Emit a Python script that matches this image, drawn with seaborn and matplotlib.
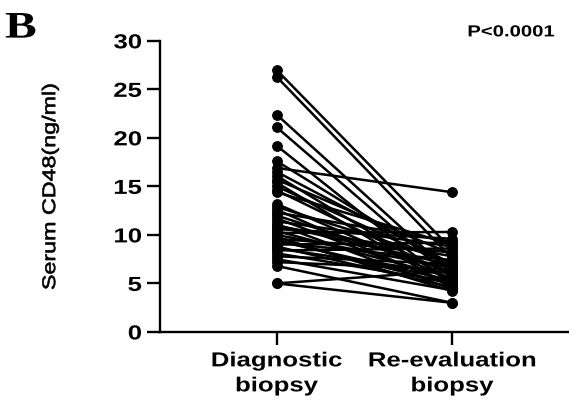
import matplotlib
matplotlib.use("Agg")
import matplotlib.pyplot as plt
from matplotlib.patheffects import AbstractPathEffect
from matplotlib.transforms import Affine2D
import seaborn as sns
import pandas as pd

categories = ["Diagnostic\nbiopsy", "Re-evaluation\nbiopsy"]
diagnostic = [27.0, 26.3, 22.4, 21.1, 19.2, 17.6, 16.9, 16.5, 16.1, 15.7, 15.4, 15.0,
              14.6, 14.4, 13.2, 12.9, 12.6, 12.3, 12.0, 11.7, 11.4, 11.1, 11.0, 10.9,
              10.6, 10.4, 10.2, 10.0, 9.8, 9.6, 9.5, 9.4, 9.2, 9.0, 8.8, 8.6, 8.4, 8.1,
              7.8, 7.5, 7.2, 6.8, 5.0, 5.0]
reevaluation = [8.5, 7.6, 6.0, 5.5, 4.8, 6.5, 14.4, 7.0, 5.2, 8.0, 4.5, 6.8,
                5.8, 9.0, 5.4, 7.2, 4.7, 9.3, 6.2, 5.0, 8.8, 4.4, 6.9, 7.8,
                9.6, 5.6, 10.3, 6.6, 4.2, 8.2, 4.9, 5.3, 7.4, 9.2, 4.6, 6.0, 8.6, 5.1,
                7.0, 4.3, 6.4, 3.0, 3.0, 6.3]
yticks = [0, 5, 10, 15, 20, 25, 30]

rows = []
for i, (a, b) in enumerate(zip(diagnostic, reevaluation)):
    rows.append({"subject": i, "time": categories[0], "value": a})
    rows.append({"subject": i, "time": categories[1], "value": b})
df = pd.DataFrame(rows)


class Stretch(AbstractPathEffect):
    """Widen glyphs along the text direction (the reference font is wide)."""
    def __init__(self, sx=1.27, anchor="center", stroke=0.0):
        super().__init__()
        self.sx = sx
        self.anchor = anchor
        self.stroke = stroke

    def draw_path(self, renderer, gc, tpath, affine, rgbFace=None):
        ext = tpath.get_extents()
        if self.anchor == "left":
            cx = ext.x0
        elif self.anchor == "right":
            cx = ext.x1
        else:
            cx = 0.5 * (ext.x0 + ext.x1)
        aff = Affine2D().translate(-cx, 0).scale(self.sx, 1).translate(cx, 0) + affine
        if self.stroke > 0:
            gc0 = renderer.new_gc()
            gc0.copy_properties(gc)
            gc0.set_linewidth(self.stroke)
            gc0.set_foreground("black")
            renderer.draw_path(gc0, tpath, aff, rgbFace)
            gc0.restore()
        else:
            renderer.draw_path(gc, tpath, aff, rgbFace)


sns.set_style("ticks")
plt.rcParams["font.family"] = ["Liberation Sans", "DejaVu Sans"]
plt.rcParams["text.color"] = "black"
plt.rcParams["xtick.color"] = "black"
plt.rcParams["ytick.color"] = "black"
plt.rcParams["axes.labelcolor"] = "black"

fig = plt.figure(figsize=(5.69, 4.06), dpi=100)
ax = fig.add_axes([0.281, 0.18, 0.717, 0.717])

sns.lineplot(data=df, x="time", y="value", units="subject", estimator=None,
             color="black", linewidth=1.8, marker="o", markersize=7,
             markeredgecolor="black", markerfacecolor="black", ax=ax, legend=False)

ax.set_ylim(0, 30)
ax.set_xlim(-0.665, 1.66)
ax.set_yticks(yticks)
ylabs = ax.set_yticklabels([str(t) for t in yticks], fontsize=14.6, fontweight="bold")
for t in ylabs:
    t.set_path_effects([Stretch(1.27, "right")])
ax.set_xticks([0, 1])
xlabs = ax.set_xticklabels(categories, fontsize=14.6, fontweight="bold", linespacing=1.4)
for t in xlabs:
    t.set_path_effects([Stretch(1.27, "center")])
ax.set_xlabel("")
yl = ax.set_ylabel("Serum CD48(ng/ml)", fontsize=13.2)
yl.set_path_effects([Stretch(1.27, "center", stroke=0.45)])
ax.yaxis.set_label_coords(-0.247, 0.5)
for s in ["top", "right"]:
    ax.spines[s].set_visible(False)
for s in ["left", "bottom"]:
    ax.spines[s].set_linewidth(1.7)
    ax.spines[s].set_color("black")
ax.tick_params(axis="y", length=9.5, width=1.7, color="black", pad=3.5)
ax.tick_params(axis="x", length=9.5, width=1.7, color="black", pad=4.5)

tb = fig.text(0.009, 0.905, "B", fontsize=27, fontweight="bold", family="Liberation Serif")
tb.set_path_effects([Stretch(1.27, "left")])
tp = fig.text(0.975, 0.919, "P<0.0001", fontsize=11.5, fontweight="bold", ha="right", va="center")
tp.set_path_effects([Stretch(1.27, "right")])

fig.savefig("out.png", dpi=100)
